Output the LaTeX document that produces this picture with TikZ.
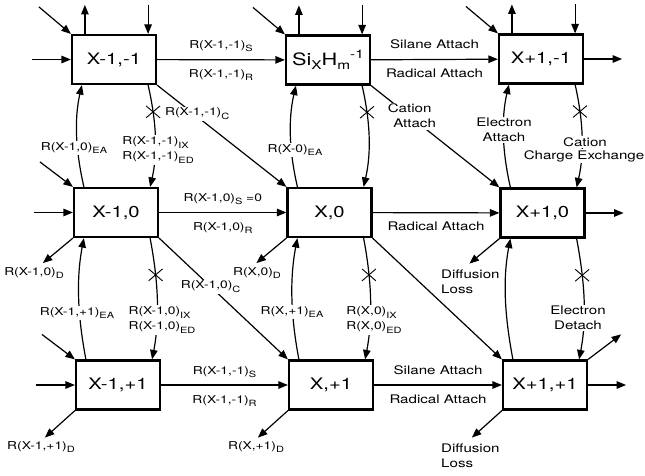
\documentclass[tikz,border=0pt]{standalone}
\usepackage{fontspec}
\setmainfont[FakeStretch=1.28]{TeX Gyre Heros}
\usetikzlibrary{arrows.meta,shapes.misc,calc}
\newcommand\sbs[1]{\raisebox{-3.2pt}{\fontsize{8.6}{8.6}\selectfont #1}}
\newcommand\bsub[1]{\raisebox{-4.5pt}{\fontsize{12}{12}\selectfont #1}}
\newcommand\bsup[1]{\raisebox{6.5pt}{\fontsize{12}{12}\selectfont #1}}
\begin{document}
\begin{tikzpicture}[x=1pt,y=-1pt,
  box/.style={draw, line width=2.2pt, minimum width=84pt, minimum height=49pt, inner sep=0pt, font=\fontsize{15.8}{18}\selectfont},
  conn/.style={line width=1.2pt, -{Triangle[length=9.5pt,width=7.5pt]}},
  lbl/.style={font=\fontsize{10.8}{15}\selectfont, inner sep=1pt},
  wd/.style={font=\fontsize{11.8}{15}\selectfont, inner sep=1pt},
  onw/.style={fill=white, inner sep=1.5pt},
  abv/.style={midway, anchor=base, yshift=11pt},
  blw/.style={midway, anchor=base, yshift=-18pt},
  xmark/.style={draw, cross out, line width=0.9pt, minimum width=13pt, minimum height=11pt, inner sep=0pt},
]
\useasboundingbox (0,0) rectangle (645,476);
% ---------------- boxes
\node[box] (A11) at (114,59.5) {X-1,-1};
\node[box,font=\fontsize{17}{19}\selectfont] (A12) at (328,60) {Si\bsub{X}H\bsub{m}\bsup{-1}};
\node[box] (A13) at (541,59) {X+1,-1};
\node[box] (A21) at (116,212.5) {X-1,0};
\node[box] (A22) at (329.5,212.5) {X,0};
\node[box] (A23) at (542.5,213) {X+1,0};
\node[box] (A31) at (118,385) {X-1,+1};
\node[box] (A32) at (331,385) {X,+1};
\node[box] (A33) at (545,385) {X+1,+1};
% ---------------- free ends
\foreach \b in {A11,A12,A13}{
  \coordinate (\b d) at ($(\b.north west)+(-32,-27)$);
  \coordinate (\b ub) at ($(\b.north west)+(14,0)$);
  \coordinate (\b ut) at ($(\b.north west)+(14,-29)$);
  \coordinate (\b vt) at ($(\b.north east)+(-9,-29)$);
  \coordinate (\b vb) at ($(\b.north east)+(-9,0)$);
  \draw[conn] (\b d) -- (\b.north west);
  \draw[conn] (\b ub) -- (\b ut);
  \draw[conn] (\b vt) -- (\b vb);
}
\foreach \b in {A21,A31}{
  \coordinate (\b d) at ($(\b.north west)+(-33,-25)$);
  \draw[conn] (\b d) -- (\b.north west);
}
\foreach \b in {A11,A21,A31}{
  \coordinate (\b in) at ($(\b.west)+(-39,0)$);
  \draw[conn] (\b in) -- (\b.west);
}
\foreach \b in {A13,A23,A33}{
  \coordinate (\b out) at ($(\b.east)+(38,0)$);
  \draw[conn] (\b.east) -- (\b out);
}
\coordinate (A33ne) at ($(A33.north east)+(33,-25)$);
\draw[conn] (A33.north east) -- (A33ne);
% diffusion / D arrows
\foreach \b in {A21,A22,A23}{
  \coordinate (\b D) at ($(\b.south west)+(-30,25)$);
  \draw[conn] (\b.south west) -- (\b D);
}
\foreach \b in {A31,A32,A33}{
  \coordinate (\b D) at ($(\b.south west)+(-30,27)$);
  \draw[conn] (\b.south west) -- (\b D);
}
% ---------------- horizontal connectors
\draw[conn] (A11) -- (A12)
  node[lbl,abv]{R(X-1,-1)\sbs{S}} node[lbl,blw]{R(X-1,-1)\sbs{R}};
\draw[conn] (A12) -- (A13)
  node[wd,abv]{Silane Attach} node[wd,blw]{Radical Attach};
\draw[conn] (A21) -- (A22)
  node[lbl,abv]{R(X-1,0)\sbs{S} =0} node[lbl,blw]{R(X-1,0)\sbs{R}};
\draw[conn] (A22) -- (A23)
  node[wd,blw]{Radical Attach};
\draw[conn] (A31) -- (A32)
  node[lbl,abv]{R(X-1,-1)\sbs{S}} node[lbl,blw]{R(X-1,-1)\sbs{R}};
\draw[conn] (A32) -- (A33)
  node[wd,abv]{Silane Attach} node[wd,blw]{Radical Attach};
% ---------------- diagonal connectors
\draw[conn] (A11.south east) -- (A22.north west)
  node[lbl,onw,pos=0.31,yshift=3pt]{R(X-1,-1)\sbs{C}};
\draw[conn] (A12.south east) -- (A23.north west)
  node[wd,onw,pos=0.3,align=center]{Cation\\\hspace*{10pt}Attach};
\draw[conn] (A21.south east) -- (A32.north west)
  node[lbl,onw,pos=0.4]{R(X-1,0)\sbs{C}};
\draw[conn] (A22.south east) -- (A33.north west);
% ---------------- vertical curved connectors
\foreach \u/\l in {A11/A21,A12/A22,A13/A23}{
  \draw[conn] ($(\l.north west)+(11,0)$) .. controls +(-8,-35) and +(-8,35) .. ($(\u.south west)+(11,0)$);
  \draw[conn] ($(\u.south east)+(-9,0)$) .. controls +(8,35) and +(8,-35) .. ($(\l.north east)+(-9,0)$)
    coordinate[pos=0.26] (\u x);
  \node[xmark] at (\u x) {};
}
\foreach \u/\l in {A21/A31,A22/A32,A23/A33}{
  \draw[conn] ($(\l.north west)+(11,0)$) .. controls +(-8,-42) and +(-8,42) .. ($(\u.south west)+(11,0)$);
  \draw[conn] ($(\u.south east)+(-9,0)$) .. controls +(8,42) and +(8,-42) .. ($(\l.north east)+(-9,0)$)
    coordinate[pos=0.3] (\u x);
  \node[xmark] at (\u x) {};
}
% ---------------- labels on the curves
\node[lbl,onw] (l1) at (74,148) {R(X-1,0)\sbs{EA}};
\node[lbl,onw,align=left] (l2) at (158,150) {R(X-1,-1)\sbs{IX}\\R(X-1,-1)\sbs{ED}};
\node[lbl,onw] (l3) at (295,150) {R(X-0)\sbs{EA}};
\node[wd,onw] (l5a) at (585,142) {Cation};
\node[wd,onw] (l5b) at (584,156) {Charge Exchange};
\node[wd,onw,align=center] (l4) at (504,130) {Electron\\Attach};
\node[lbl,onw] (l6) at (77,313) {R(X-1,+1)\sbs{EA}};
\node[lbl,onw,align=left] (l7) at (162,320) {R(X-1,0)\sbs{IX}\\R(X-1,0)\sbs{ED}};
\node[lbl,onw] (l8) at (292,312) {R(X,+1)\sbs{EA}};
\node[lbl,onw,align=left] (l9) at (374,320) {R(X,0)\sbs{IX}\\R(X,0)\sbs{ED}};
\node[wd,onw,align=center] (l10) at (578,318) {Electron\\Detach};
% ---------------- loss labels
\node[lbl] (dl1) at (34,273) {R(X-1,0)\sbs{D}};
\node[lbl] (dl2) at (257,273) {R(X,0)\sbs{D}};
\node[wd,anchor=west,align=left] (dl3) at (440,282) {Diffusion\\Loss};
\node[lbl] (dl4) at (41,447) {R(X-1,+1)\sbs{D}};
\node[lbl] (dl5) at (256,447) {R(X,+1)\sbs{D}};
\node[wd,anchor=west,align=left] (dl6) at (440,456) {Diffusion\\Loss};
\end{tikzpicture}
\end{document}
